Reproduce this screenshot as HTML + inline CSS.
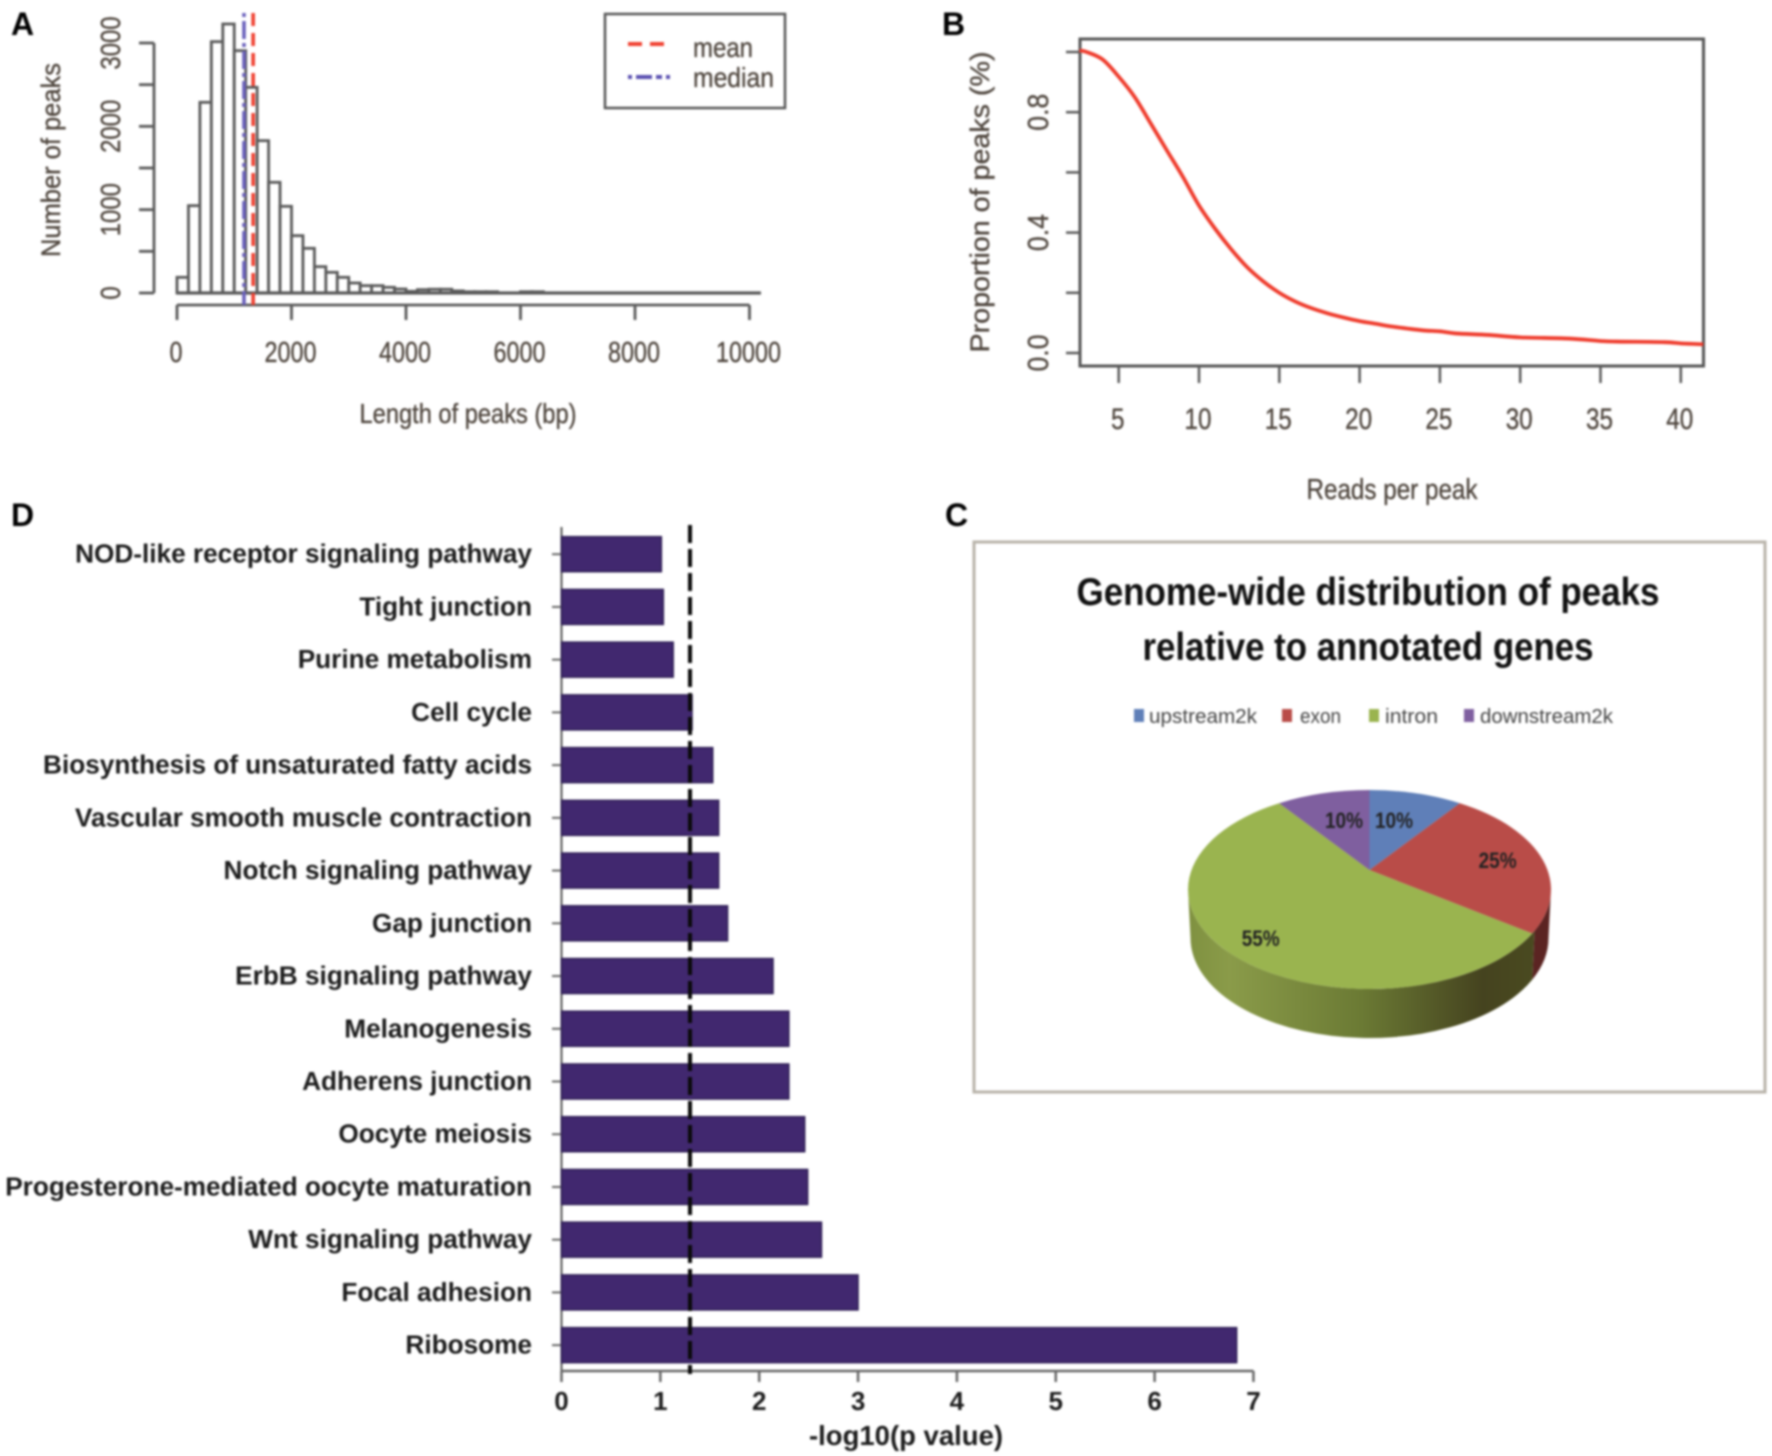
<!DOCTYPE html>
<html lang="en">
<head>
<meta charset="utf-8">
<title>Peak analysis figure</title>
<style>
html,body{margin:0;padding:0;background:#fff;width:1772px;height:1456px;overflow:hidden}
svg{display:block;filter:blur(1px)}
text{font-family:"Liberation Sans",sans-serif}
.r{fill:#4f463e;stroke:#4f463e;stroke-width:.35px}
.d{font-weight:bold;fill:#1c1c1c}
.p{font-weight:bold;fill:#000}
</style>
</head>
<body>
<svg id="fig" width="1772" height="1456" viewBox="0 0 1772 1456" xmlns="http://www.w3.org/2000/svg">
<defs>
<linearGradient id="sideGreen" x1="0" x2="1" y1="0" y2="0">
<stop offset="0" stop-color="#7f9140"/><stop offset=".12" stop-color="#8a9b49"/><stop offset=".5" stop-color="#6b7a34"/><stop offset=".85" stop-color="#45431f"/><stop offset="1" stop-color="#4a4a20"/>
</linearGradient>
</defs>
<text class="p" x="11" y="35" font-size="32">A</text>
<text class="p" x="942" y="35" font-size="32">B</text>
<text class="p" x="945" y="526" font-size="32">C</text>
<text class="p" x="11" y="526" font-size="32">D</text>

<g id="panelA">
<text class="r" transform="translate(60,160) rotate(-90)" text-anchor="middle" font-size="27" textLength="194" lengthAdjust="spacingAndGlyphs">Number of peaks</text>
<text class="r" x="468" y="423" text-anchor="middle" font-size="28" textLength="217" lengthAdjust="spacingAndGlyphs">Length of peaks (bp)</text>
<rect x="605" y="14" width="180" height="94" fill="#fff" stroke="#555" stroke-width="2.5"/>
<line x1="628" y1="44" x2="669" y2="44" stroke="#f04030" stroke-width="4" stroke-dasharray="14 8"/>
<line x1="628" y1="77" x2="673" y2="77" stroke="#5a50b0" stroke-width="4" stroke-dasharray="4 4 16 4 6 4"/>
<text class="r" x="693" y="57" font-size="28" textLength="60" lengthAdjust="spacingAndGlyphs">mean</text>
<text class="r" x="693" y="87" font-size="28" textLength="81" lengthAdjust="spacingAndGlyphs">median</text>
</g>

<g id="panelB">
<rect x="1080" y="39" width="623.500" height="327" fill="#fff" stroke="#555" stroke-width="3"/>
<text class="r" transform="translate(989,202) rotate(-90)" text-anchor="middle" font-size="27" textLength="301" lengthAdjust="spacingAndGlyphs">Proportion of peaks (%)</text>
<text class="r" x="1392" y="499" text-anchor="middle" font-size="29" textLength="171" lengthAdjust="spacingAndGlyphs">Reads per peak</text>
</g>

<g id="panelC">
<rect x="974" y="542" width="791" height="550" fill="#fff" stroke="#b8b3aa" stroke-width="3"/>
<text x="1368" y="605" text-anchor="middle" font-size="39" font-weight="bold" fill="#111" textLength="583" lengthAdjust="spacingAndGlyphs">Genome-wide distribution of peaks</text>
<text x="1368" y="660" text-anchor="middle" font-size="39" font-weight="bold" fill="#111" textLength="451" lengthAdjust="spacingAndGlyphs">relative to annotated genes</text>
<rect x="1134" y="709" width="10" height="13" fill="#5f7fb8"/>
<text x="1149" y="723" font-size="20" fill="#444" textLength="108" lengthAdjust="spacingAndGlyphs">upstream2k</text>
<rect x="1282" y="709" width="10" height="13" fill="#b94c48"/>
<text x="1300" y="723" font-size="20" fill="#444" textLength="41" lengthAdjust="spacingAndGlyphs">exon</text>
<rect x="1369" y="709" width="10" height="13" fill="#9ab44f"/>
<text x="1385" y="723" font-size="20" fill="#444" textLength="53" lengthAdjust="spacingAndGlyphs">intron</text>
<rect x="1464" y="709" width="10" height="13" fill="#7f5f9f"/>
<text x="1480" y="723" font-size="20" fill="#444" textLength="133" lengthAdjust="spacingAndGlyphs">downstream2k</text>
</g>

<g id="panelD">
<text class="d" x="906" y="1445" text-anchor="middle" font-size="27.5">-log10(p value)</text>
</g>
</svg>

<script>
// Panel A: histogram
const histBinSize = 200;
const histCounts = [188,1048,2288,3016,3228,2908,2468,1828,1328,1040,688,536,316,248,188,120,88,88,68,48,20,40,45,45,25,15,15,15,0,0,15,15,0,0,0,0,0,0,0,0,0,0,0,0,0,0,0,0,0,0,0];
const histXTicks = [0,2000,4000,6000,8000,10000];
const histYTicks = [0,500,1000,1500,2000,2500,3000];
const histYLabels = [0,1000,2000,3000];
const histMean = 1330;
const histMedian = 1170;

// Panel B: reads per peak curve
const readsPerPeak = [2.56,3,4,5,6,7,8,9,10,11,12,13,14,15,16,17,18,19,20,21,22,23,24,25,26,28,30,33,35,36,39,40,41.4];
const peakProportion = [1.005,1.0,.975,.918,.85,.762,.673,.585,.49,.413,.345,.285,.238,.2,.171,.149,.132,.118,.106,.097,.088,.081,.075,.072,.065,.06,.052,.048,.04,.038,.036,.032,.029];
const readsXTicks = [5,10,15,20,25,30,35,40];
const readsYTicks = [0,.2,.4,.6,.8,1];
const readsYLabels = ["0.0","0.4","0.8"];

// Panel C: pie
const pieCategories = ["upstream2k","exon","intron","downstream2k"];
const pieValues = [10,25,55,10];

// Panel D: bars (top to bottom)
const pathwayNames = ["NOD-like receptor signaling pathway","Tight junction","Purine metabolism","Cell cycle","Biosynthesis of unsaturated fatty acids","Vascular smooth muscle contraction","Notch signaling pathway","Gap junction","ErbB signaling pathway","Melanogenesis","Adherens junction","Oocyte meiosis","Progesterone-mediated oocyte maturation","Wnt signaling pathway","Focal adhesion","Ribosome"];
const pathwayValues = [1.01,1.03,1.13,1.32,1.53,1.59,1.59,1.68,2.14,2.30,2.30,2.46,2.49,2.63,3.0,6.83];
const pathwayXTicks = [0,1,2,3,4,5,6,7];
const pValueCutoff = 1.3;

const NS = "http://www.w3.org/2000/svg";
function mk(parent, tag, props, txt) {
  const e = document.createElementNS(NS, tag);
  for (const k in props) e.setAttribute(k, props[k]);
  if (txt !== undefined) e.textContent = txt;
  parent.appendChild(e);
  return e;
}
const pa = document.getElementById("panelA");
const pb = document.getElementById("panelB");
const pc = document.getElementById("panelC");
const pd = document.getElementById("panelD");
const GR = "#5a5a5a";

/* ---------- A ---------- */
const xA = v => 177 + v * 0.05725;
const yA = v => 293 - v * (250 / 3000);
histCounts.forEach((c, i) => {
  const el = mk(pa, "rect", {x: xA(i * histBinSize), y: yA(c), width: xA(histBinSize) - xA(0), height: yA(0) - yA(c), fill: "#fff", stroke: GR, "stroke-width": 2.8});
  
  
});
let el = mk(pa, "line", {x1: xA(0), y1: yA(0), x2: xA(histCounts.length * histBinSize), y2: yA(0), stroke: GR, "stroke-width": 3.2});


el = mk(pa, "line", {x1: 154, y1: yA(3000), x2: 154, y2: yA(0), stroke: GR, "stroke-width": 2.8});


histYTicks.forEach(v => {
  const t = mk(pa, "line", {x1: 139, y1: yA(v), x2: 154, y2: yA(v), stroke: GR, "stroke-width": 2.8});
  
  
});
histYLabels.forEach(v => {
  const s = String(v);
  const t = mk(pa, "text", {class: "r", transform: `translate(120,${yA(v)}) rotate(-90)`, "text-anchor": "middle", "font-size": 28, textLength: s.length * 13.3, lengthAdjust: "spacingAndGlyphs"}, s);
  
  
});
el = mk(pa, "line", {x1: xA(0), y1: 305, x2: xA(10000), y2: 305, stroke: GR, "stroke-width": 2.8});


histXTicks.forEach(v => {
  const t = mk(pa, "line", {x1: xA(v), y1: 305, x2: xA(v), y2: 320, stroke: GR, "stroke-width": 2.8});
  
  
  const s = String(v);
  const l = mk(pa, "text", {class: "r", x: xA(v) - 1, y: 362, "text-anchor": "middle", "font-size": 29, textLength: s.length * 13, lengthAdjust: "spacingAndGlyphs"}, s);
  
  
});
el = mk(pa, "line", {x1: xA(histMedian), y1: 13, x2: xA(histMedian), y2: 305, stroke: "#6a60bb", "stroke-width": 3.6, "stroke-dasharray": "4 4 18 4"});


el = mk(pa, "line", {x1: xA(histMean), y1: 13, x2: xA(histMean), y2: 305, stroke: "#f04030", "stroke-width": 3.6, "stroke-dasharray": "13 7"});



/* ---------- B ---------- */
const xB = v => 1118.7 + (v - 5) * 16.06;
const yB = v => 353 - v * 301;
readsXTicks.forEach(v => {
  const t = mk(pb, "line", {x1: xB(v), y1: 366, x2: xB(v), y2: 383, stroke: GR, "stroke-width": 2.5});
  
  
  const s = String(v);
  const l = mk(pb, "text", {class: "r", x: xB(v) - 1, y: 429, "text-anchor": "middle", "font-size": 30, textLength: s.length * 13.5, lengthAdjust: "spacingAndGlyphs"}, s);
  
  
});
readsYTicks.forEach(v => {
  const t = mk(pb, "line", {x1: 1066, y1: yB(v), x2: 1080, y2: yB(v), stroke: GR, "stroke-width": 2.5});
  
  
});
readsYLabels.forEach(s => {
  const l = mk(pb, "text", {class: "r", transform: `translate(1048,${yB(parseFloat(s))}) rotate(-90)`, "text-anchor": "middle", "font-size": 29, textLength: 37, lengthAdjust: "spacingAndGlyphs"}, s);
  
  
});
// Smooth path through the data points
const curvePts = readsPerPeak.map((x, i) => [xB(x), yB(peakProportion[i])]);
let curveD = "M" + curvePts[0][0] + "," + curvePts[0][1];
for (let i = 0; i < curvePts.length - 1; i++) {
  const p0 = curvePts[Math.max(0, i - 1)], p1 = curvePts[i], p2 = curvePts[i + 1], p3 = curvePts[Math.min(curvePts.length - 1, i + 2)];
  curveD += " C" + (p1[0] + (p2[0] - p0[0]) / 6) + "," + (p1[1] + (p2[1] - p0[1]) / 6) + " " + (p2[0] - (p3[0] - p1[0]) / 6) + "," + (p2[1] - (p3[1] - p1[1]) / 6) + " " + p2[0] + "," + p2[1];
}
el = mk(pb, "path", {d: curveD, fill: "none", stroke: "#ef3b2c", "stroke-width": 3.8, "stroke-linejoin": "round"});



/* ---------- C ---------- */
const pieFill = ["#5f7fb8", "#b94c48", "#9ab44f", "#7f5f9f"];
const cx = 1369.5, cy = 889.5, rx = 181.5, ry = 99.5, apexY = 870;
const tilt = -(cy - apexY) / ry;
const apparent = frac => {
  const th = frac * 2 * Math.PI, u = Math.sin(th), v = Math.cos(th);
  const den = 1 - tilt * v;
  let t = Math.atan2(u * Math.sqrt(1 - tilt * tilt) / den, (v - tilt) / den);
  if (t < 0) t += 2 * Math.PI;
  return t;
};
const topPt = t => [cx + rx * Math.sin(t), cy - ry * Math.cos(t)];
const botPt = t => [cx + 179 * Math.sin(t), 938 - 100 * Math.cos(t)];
const pieTotal = pieValues.reduce((a, b) => a + b, 0);
let cum = 0;
const bounds = pieValues.map(v => { const a = cum / pieTotal; cum += v; return [a, cum / pieTotal]; });

const tRedGreen = apparent(bounds[2][0]) - 0.03;
const pS = topPt(tRedGreen), pB = botPt(tRedGreen);
const L = topPt(1.5 * Math.PI), LB = botPt(1.5 * Math.PI);
const R = topPt(.5 * Math.PI), RB = botPt(.5 * Math.PI);
el = mk(pc, "path", {d: `M${R[0]},${R[1]} L${RB[0]},${RB[1]} A179 100 0 0 1 ${pB[0]},${pB[1]} L${pS[0]},${pS[1]} A${rx} ${ry} 0 0 0 ${R[0]},${R[1]}Z`, fill: "#5b2422"});


el = mk(pc, "path", {d: `M${L[0]},${L[1]} L${LB[0]},${LB[1]} A179 100 0 0 0 ${pB[0]},${pB[1]} L${pS[0]},${pS[1]} A${rx} ${ry} 0 0 1 ${L[0]},${L[1]}Z`, fill: "url(#sideGreen)"});



bounds.forEach((b, i) => {
  const t0 = apparent(b[0]);
  let t1 = apparent(b[1]);
  if (t1 <= t0) t1 += 2 * Math.PI;
  const p0 = topPt(t0), p1 = topPt(t1);
  const s = mk(pc, "path", {d: `M${cx},${apexY} L${p0[0]},${p0[1]} A${rx} ${ry} 0 ${t1 - t0 > Math.PI ? 1 : 0} 1 ${p1[0]},${p1[1]}Z`, fill: pieFill[i]});
  
  
});

const pieLabelSpot = [[1394, 828], [1497.6, 868], [1260.7, 946], [1344, 828]];
pieValues.forEach((v, i) => {
  const l = mk(pc, "text", {x: pieLabelSpot[i][0], y: pieLabelSpot[i][1], "text-anchor": "middle", "font-size": 22, "font-weight": "bold", fill: "#222", textLength: 38, lengthAdjust: "spacingAndGlyphs"}, v + "%");
  
  
});

/* ---------- D ---------- */
const xD = v => 561.5 + v * 98.85;
const yD = i => 554.2 + i * 52.73;
el = mk(pd, "line", {x1: xD(0), y1: 527, x2: xD(0), y2: 1371, stroke: "#555", "stroke-width": 2});


pathwayNames.forEach((n, i) => {
  const t = mk(pd, "line", {x1: 552, y1: yD(i), x2: xD(0), y2: yD(i), stroke: "#666", "stroke-width": 2});
  
  
  const l = mk(pd, "text", {class: "d", x: 532, y: yD(i) + 8.5, "text-anchor": "end", "font-size": 26.2}, n);
  
  
  const b = mk(pd, "rect", {x: xD(0), y: yD(i) - 17.5, width: xD(pathwayValues[i]) - xD(0), height: 35, fill: "#41286f", stroke: "#2f1f55", "stroke-width": 1.5});
  
  
});
el = mk(pd, "line", {x1: xD(0), y1: 1371, x2: xD(7), y2: 1371, stroke: "#666", "stroke-width": 2.5});


pathwayXTicks.forEach(v => {
  const t = mk(pd, "line", {x1: xD(v), y1: 1371, x2: xD(v), y2: 1382, stroke: "#666", "stroke-width": 2.5});
  
  
  const l = mk(pd, "text", {class: "d", x: xD(v), y: 1410, "text-anchor": "middle", "font-size": 26}, String(v));
  
  
});
el = mk(pd, "line", {x1: xD(pValueCutoff), y1: 525, x2: xD(pValueCutoff), y2: 1374, stroke: "#0a0a0a", "stroke-width": 4, "stroke-dasharray": "18 6"});


</script>
</body>
</html>
